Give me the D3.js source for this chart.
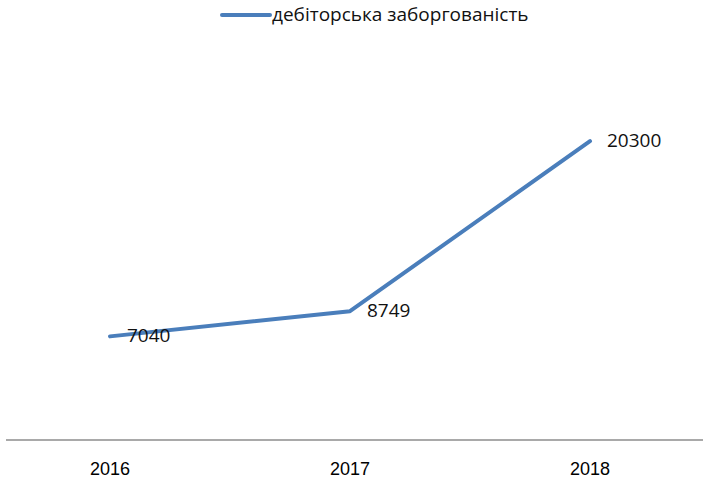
<!DOCTYPE html>
<html>
<head>
<meta charset="utf-8">
<script src="https://cdn.jsdelivr.net/npm/d3@7"></script>
<style>
  body { margin: 0; background: #fff; }
  svg { display: block; }
</style>
</head>
<body>
<svg id="chart"></svg>
<script>
const width = 703, height = 479;

// data
const years = ["2016", "2017", "2018"];
const values = [7040, 8749, 20300];
const seriesName = "дебіторська заборгованість";

const lineColor = "#4a7ebb";

const svg = d3.select("#chart")
  .attr("width", width)
  .attr("height", height);

// x: category positions
const x = d3.scalePoint()
  .domain(years)
  .range([110, 590]);

// y: value axis (hidden, 0..25000)
const y = d3.scaleLinear()
  .domain([0, 25000])
  .range([440, 72]);

// axis baseline
svg.append("line")
  .attr("x1", 6).attr("x2", width)
  .attr("y1", y(0)).attr("y2", y(0))
  .attr("stroke", "#8c8c8c")
  .attr("stroke-width", 1.5);

// category labels
svg.selectAll(".xlabel")
  .data(years)
  .enter().append("text")
  .attr("class", "xlabel")
  .attr("x", d => x(d))
  .attr("y", 470)
  .attr("text-anchor", "middle")
  .attr("dominant-baseline", "middle")
  .style("font-family", "'Liberation Sans Narrow', 'Liberation Sans', sans-serif")
  .style("font-size", "18px")
  .style("fill", "#000")
  .text(d => d);

const pts = years.map((yr, i) => ({ year: yr, value: values[i] }));

// the line
svg.append("path")
  .datum(pts)
  .attr("fill", "none")
  .attr("stroke", lineColor)
  .attr("stroke-width", 4)
  .attr("stroke-linejoin", "round")
  .attr("stroke-linecap", "round")
  .attr("d", d3.line()
    .x(d => x(d.year))
    .y(d => y(d.value)));

// data labels, to the right of each point
svg.selectAll(".dlabel")
  .data(pts)
  .enter().append("text")
  .attr("class", "dlabel")
  .attr("x", d => x(d.year) + 17)
  .attr("y", d => y(d.value) + 1)
  .attr("dominant-baseline", "middle")
  .style("font-family", "'Open Sans', sans-serif")
  .style("font-size", "19px")
  .style("fill", "#111")
  .text(d => d.value);

// legend
const legend = svg.append("g").attr("transform", "translate(222,15)");
legend.append("line")
  .attr("x1", 0).attr("x2", 48)
  .attr("y1", 0).attr("y2", 0)
  .attr("stroke", lineColor)
  .attr("stroke-width", 4)
  .attr("stroke-linecap", "round");
legend.append("text")
  .attr("x", 50)
  .attr("y", 1)
  .attr("dominant-baseline", "middle")
  .style("font-family", "'Open Sans', sans-serif")
  .style("font-size", "19px")
  .style("fill", "#111")
  .text(seriesName);
</script>
</body>
</html>
